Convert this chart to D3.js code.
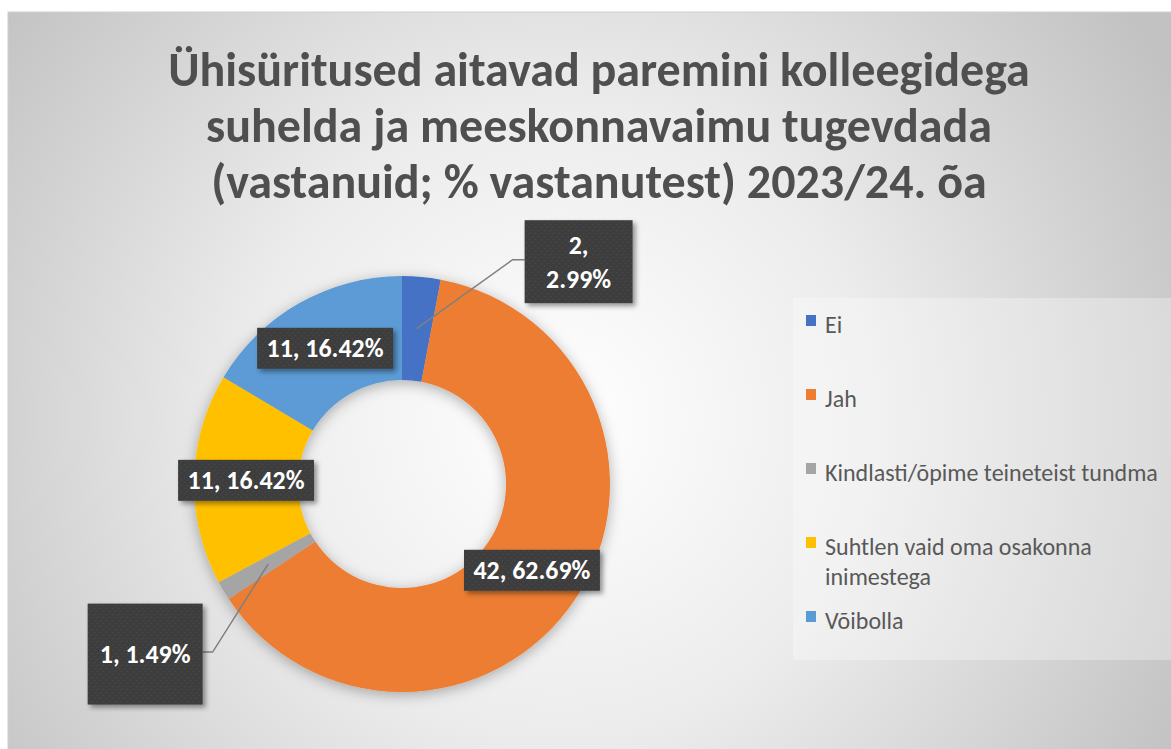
<!DOCTYPE html>
<html>
<head>
<meta charset="utf-8">
<script src="https://cdn.jsdelivr.net/npm/d3@7"></script>
<style>
  html, body { margin: 0; padding: 0; background: #fff; }
  svg { display: block; }
</style>
</head>
<body>
<svg id="chart" width="1171" height="749"></svg>
<script>
const titleLines = [
  "Ühisüritused aitavad paremini kolleegidega",
  "suhelda ja meeskonnavaimu tugevdada",
  "(vastanuid; % vastanutest) 2023/24. õa"
];
const categories = ["Ei", "Jah", "Kindlasti/õpime teineteist tundma", "Suhtlen vaid oma osakonna inimestega", "Võibolla"];
const counts = [2, 42, 1, 11, 11];
const colors = ["#4472C4", "#ED7D31", "#A5A5A5", "#FFC000", "#5B9BD5"];

const width = 1171;
const height = 749;
const cx = 402, cy = 484;
const outerR = 208, innerR = 104;
const font = "Carlito, Calibri, Lato, sans-serif";

// labels that Excel moved out of the ring, with leader lines
const callouts = {
  "Ei": {dx: 162, dy: -67, w: 108, h: 83, lines: 2},
  "Kindlasti/õpime teineteist tundma": {dx: -123, dy: 90, w: 115, h: 101, lines: 1}
};

const total = d3.sum(counts);
const data = categories.map((c, i) => ({name: c, count: counts[i], color: colors[i]}));
const pct = d => (d.count / total * 100).toFixed(2) + "%";

const svg = d3.select("#chart");
const defs = svg.append("defs");

const bg = defs.append("radialGradient")
    .attr("id", "bg")
    .attr("gradientUnits", "userSpaceOnUse")
    .attr("cx", 560).attr("cy", 420).attr("r", 700);
bg.append("stop").attr("offset", "0%").attr("stop-color", "#ffffff");
bg.append("stop").attr("offset", "45%").attr("stop-color", "#ececec");
bg.append("stop").attr("offset", "100%").attr("stop-color", "#c2c2c2");

const ringShadow = defs.append("filter").attr("id", "ringShadow")
    .attr("x", "-20%").attr("y", "-20%").attr("width", "140%").attr("height", "140%");
ringShadow.append("feDropShadow")
    .attr("dx", 0).attr("dy", 3).attr("stdDeviation", 7)
    .attr("flood-color", "#000").attr("flood-opacity", 0.3);

const boxShadow = defs.append("filter").attr("id", "boxShadow")
    .attr("x", "-20%").attr("y", "-20%").attr("width", "150%").attr("height", "150%");
boxShadow.append("feDropShadow")
    .attr("dx", 3).attr("dy", 3).attr("stdDeviation", 2.5)
    .attr("flood-color", "#000").attr("flood-opacity", 0.4);

const dots = defs.append("pattern")
    .attr("id", "dots")
    .attr("patternUnits", "userSpaceOnUse")
    .attr("width", 6).attr("height", 6);
dots.append("rect").attr("width", 6).attr("height", 6).attr("fill", "#3e3e3e");
dots.append("circle").attr("cx", 1.5).attr("cy", 1.5).attr("r", 0.8).attr("fill", "#474747");
dots.append("circle").attr("cx", 4.5).attr("cy", 4.5).attr("r", 0.8).attr("fill", "#474747");

// chart area
svg.append("rect")
    .attr("x", 8).attr("y", 12)
    .attr("width", width - 8 + 20).attr("height", height - 12 + 20)
    .attr("fill", "url(#bg)")
    .attr("stroke", "#d0d0d0");

function fit(sel, target) {
  const w = sel.node().getComputedTextLength();
  sel.attr("font-size", parseFloat(sel.attr("font-size")) * target / w);
}

// title
const title = svg.append("g")
    .attr("font-family", font)
    .attr("font-weight", "bold")
    .attr("fill", "#4f4f4f")
    .attr("text-anchor", "middle");
const titleRows = title.selectAll("text")
    .data(titleLines)
    .join("text")
    .attr("x", 599)
    .attr("y", (d, i) => 86 + i * 56)
    .attr("font-size", 40)
    .text(d => d);
fit(titleRows.filter((d, i) => i === 0), 862);
titleRows.attr("font-size", titleRows.filter((d, i) => i === 0).attr("font-size"));

// donut
const pie = d3.pie().sort(null).value(d => d.count);
const arc = d3.arc().innerRadius(innerR).outerRadius(outerR);
const arcs = pie(data);

const ring = svg.append("g")
    .attr("transform", `translate(${cx},${cy})`)
    .attr("filter", "url(#ringShadow)");
ring.selectAll("path")
    .data(arcs)
    .join("path")
    .attr("d", arc)
    .attr("fill", d => d.data.color);

// data labels
const labels = svg.append("g")
    .attr("transform", `translate(${cx},${cy})`)
    .attr("font-family", font)
    .attr("font-weight", "bold");

// measure label font size from one label
const probe = labels.append("text").attr("font-size", 20).text("11, 16.42%");
fit(probe, 117);
const labelSize = parseFloat(probe.attr("font-size"));
probe.remove();

arcs.forEach(a => {
  const [x0, y0] = arc.centroid(a);
  const co = callouts[a.data.name];
  const g = labels.append("g");
  if (co) {
    const bx = x0 + co.dx, by = y0 + co.dy;
    const edge = co.dx > 0 ? bx - co.w / 2 : bx + co.w / 2;
    const elbow = co.dx > 0 ? edge - 12 : edge + 10;
    g.append("polyline")
        .attr("points", [[x0, y0], [elbow, by - 2], [edge, by - 2]].map(p => p.join(",")).join(" "))
        .attr("fill", "none")
        .attr("stroke", "#7f7f7f")
        .attr("stroke-width", 1.5);
    g.append("rect")
        .attr("x", bx - co.w / 2).attr("y", by - co.h / 2)
        .attr("width", co.w).attr("height", co.h)
        .attr("fill", "url(#dots)")
        .attr("filter", "url(#boxShadow)");
    const parts = co.lines === 2 ? [a.data.count + ",", pct(a.data)] : [a.data.count + ", " + pct(a.data)];
    const lh = labelSize * 1.3;
    g.append("text")
        .attr("text-anchor", "middle")
        .attr("fill", "#fff")
        .attr("font-size", labelSize)
        .selectAll("tspan")
        .data(parts)
        .join("tspan")
        .attr("x", bx)
        .attr("y", (d, i) => by + labelSize * 0.35 + (i - (parts.length - 1) / 2) * lh)
        .text(d => d);
  } else {
    const t = g.append("text")
        .attr("x", x0).attr("y", y0 + labelSize * 0.35)
        .attr("text-anchor", "middle")
        .attr("fill", "#fff")
        .attr("font-size", labelSize)
        .text(a.data.count + ", " + pct(a.data));
    const w = t.node().getComputedTextLength() + 19;
    g.insert("rect", "text")
        .attr("x", x0 - w / 2).attr("y", y0 - 20.5)
        .attr("width", w).attr("height", 41)
        .attr("fill", "url(#dots)")
        .attr("filter", "url(#boxShadow)");
  }
});

// legend
const legend = svg.append("g")
    .attr("font-family", font)
    .attr("fill", "#595959");
legend.append("rect")
    .attr("x", 793).attr("y", 298)
    .attr("width", 400).attr("height", 362)
    .attr("fill", "#ffffff")
    .attr("fill-opacity", 0.3);

const legendY = d3.scalePoint().domain(categories).range([315, 611]);
const lprobe = legend.append("text").attr("font-size", 20).text(categories[2]);
fit(lprobe, 333);
const legendSize = parseFloat(lprobe.attr("font-size"));
lprobe.remove();

data.forEach(d => {
  const y = legendY(d.name);
  legend.append("rect")
      .attr("x", 806).attr("y", y)
      .attr("width", 10).attr("height", 11)
      .attr("fill", d.color);
  const t = legend.append("text")
      .attr("x", 825).attr("y", y + 18)
      .attr("font-size", legendSize);
  // wrap long entries
  const words = d.name.split(" ");
  let line = [];
  let ts = t.append("tspan").attr("x", 825).attr("dy", 0);
  words.forEach(w => {
    line.push(w);
    ts.text(line.join(" "));
    if (ts.node().getComputedTextLength() > 340 && line.length > 1) {
      line.pop();
      ts.text(line.join(" "));
      line = [w];
      ts = t.append("tspan").attr("x", 825).attr("dy", legendSize * 1.27).text(w);
    }
  });
});
</script>
</body>
</html>
